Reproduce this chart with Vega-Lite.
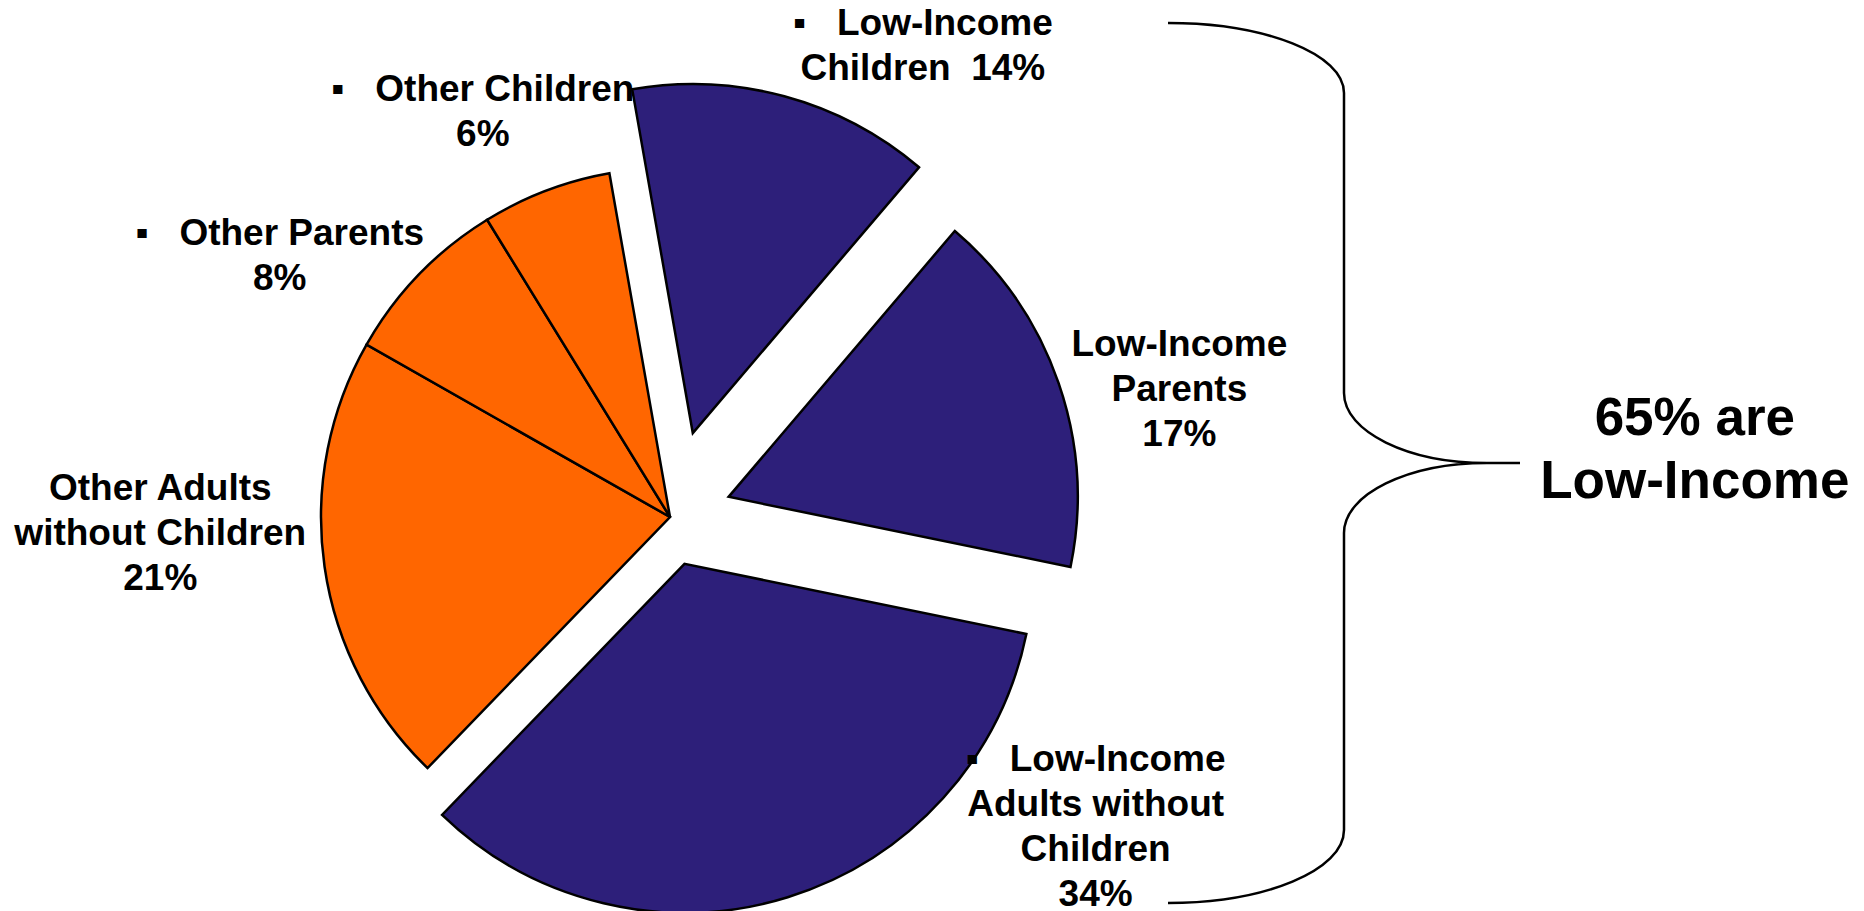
{
  "$schema": "https://vega.github.io/schema/vega-lite/v6.json",
  "autosize": {"type": "none"},
  "width": 698,
  "height": 698,
  "padding": {"left": 321, "top": 168, "right": 845, "bottom": 45},
  "background": "white",
  "config": {"view": {"stroke": null}, "font": "Liberation Sans"},
  "data": {
    "values": [
      {"idx": 1, "cat": "Low-Income Children", "grp": "Low-Income", "pct": 14, "label": "▪\u00a0\u00a0\u00a0Low-Income\nChildren\u00a0\u00a014%"},
      {"idx": 2, "cat": "Low-Income Parents", "grp": "Low-Income", "pct": 17, "label": "Low-Income\nParents\n17%"},
      {"idx": 3, "cat": "Low-Income Adults without Children", "grp": "Low-Income", "pct": 34, "label": "▪\u00a0\u00a0\u00a0Low-Income\nAdults without\nChildren\n34%"},
      {"idx": 4, "cat": "Other Adults without Children", "grp": "Other", "pct": 21, "label": "Other Adults\nwithout Children\n21%"},
      {"idx": 5, "cat": "Other Parents", "grp": "Other", "pct": 8, "label": "▪\u00a0\u00a0\u00a0Other Parents\n8%"},
      {"idx": 6, "cat": "Other Children", "grp": "Other", "pct": 6, "label": "▪\u00a0\u00a0\u00a0Other Children\n6%"}
    ]
  },
  "layer": [
    {
      "mark": {
        "type": "arc",
        "stroke": "black",
        "strokeWidth": 2.5,
        "xOffset": {"expr": "(datum.cat == 'Low-Income Children' ? 87 : datum.cat == 'Low-Income Parents' ? 62 : datum.cat == 'Low-Income Adults without Children' ? 49 : 0) * sin(scale('theta', (datum.pct_start + datum.pct_end) / 2))"},
        "yOffset": {"expr": "-(datum.cat == 'Low-Income Children' ? 87 : datum.cat == 'Low-Income Parents' ? 62 : datum.cat == 'Low-Income Adults without Children' ? 49 : 0) * cos(scale('theta', (datum.pct_start + datum.pct_end) / 2))"}
      },
      "encoding": {
        "theta": {"field": "pct", "type": "quantitative", "stack": true, "scale": {"domain": [0, 100], "range": [-0.17453, 6.10865]}},
        "order": {"field": "idx", "type": "quantitative"},
        "color": {"field": "grp", "type": "nominal", "scale": {"domain": ["Low-Income", "Other"], "range": ["#2D1F7A", "#FF6600"]}, "legend": null}
      }
    },
    {
      "mark": {
        "type": "text",
        "font": "Liberation Sans",
        "fontWeight": "bold",
        "fontSize": 37,
        "lineHeight": 45,
        "lineBreak": "\n",
        "align": "center",
        "baseline": "middle",
        "color": "black",
        "dy": {"expr": "-(length(split(datum.label, '\\n')) - 1) * 22.5"},
        "radius": {"expr": "datum.cat == 'Low-Income Children' ? 534 : datum.cat == 'Low-Income Parents' ? 525 : datum.cat == 'Low-Income Adults without Children' ? 527 : datum.cat == 'Other Adults without Children' ? 510 : datum.cat == 'Other Parents' ? 469 : 446"},
        "thetaOffset": {"expr": "datum.cat == 'Low-Income Children' ? 0.228 : datum.cat == 'Low-Income Parents' ? 0.087 : datum.cat == 'Low-Income Adults without Children' ? -0.640 : datum.cat == 'Other Adults without Children' ? 0.110 : datum.cat == 'Other Parents' ? -0.180 : -0.070"}
      },
      "encoding": {
        "theta": {"field": "pct", "type": "quantitative", "stack": true},
        "order": {"field": "idx", "type": "quantitative"},
        "text": {"field": "label", "type": "nominal"}
      }
    },
    {
      "transform": [
        {"filter": "datum.grp == 'Low-Income'"},
        {"aggregate": [{"op": "sum", "field": "pct", "as": "total"}]},
        {"calculate": "datum.total + '% are\\nLow-Income'", "as": "callout"}
      ],
      "mark": {
        "type": "text",
        "font": "Liberation Sans",
        "fontWeight": "bold",
        "fontSize": 53,
        "lineHeight": 63,
        "lineBreak": "\n",
        "align": "center",
        "baseline": "middle",
        "color": "black",
        "dy": -31.5,
        "theta": 1.5056,
        "radius": 1027
      },
      "encoding": {
        "text": {"field": "callout", "type": "nominal"}
      }
    },
    {
      "data": {"values": [{"brace": "Low-Income"}]},
      "mark": {
        "type": "point",
        "shape": "M-0.4,-1 C-0.179,-1 0,-0.929 0,-0.841 L0,-0.159 C0,-0.071 0.1455,0 0.325,0 L0.4,0 M0.325,0 C0.1455,0 0,0.071 0,0.159 L0,0.834 C0,0.926 -0.179,1 -0.4,1",
        "size": 774400,
        "filled": false,
        "fill": null,
        "stroke": "black",
        "strokeWidth": 2.5,
        "opacity": 1,
        "x": 1023,
        "y": 295
      },
      "encoding": {}
    }
  ]
}
